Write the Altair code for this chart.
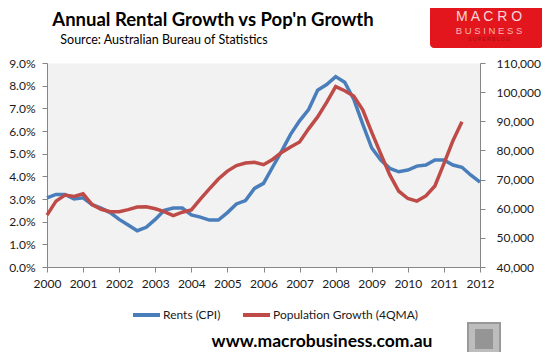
import altair as alt
import pandas as pd

# Quarterly time (decimal years)
quarters = [2000 + i * 0.25 for i in range(49)]

# Rents (CPI), annual % growth (left axis)
rents = [3.05, 3.2, 3.2, 3.0, 3.05, 2.75, 2.6, 2.4, 2.1, 1.85, 1.6, 1.75,
         2.1, 2.5, 2.6, 2.6, 2.3, 2.2, 2.07, 2.07, 2.4, 2.78, 2.93, 3.47,
         3.69, 4.4, 5.1, 5.85, 6.45, 6.95, 7.8, 8.05, 8.4, 8.15, 7.4, 6.3,
         5.25, 4.72, 4.35, 4.2, 4.28, 4.45, 4.5, 4.72, 4.72, 4.5, 4.4, 4.05, 3.74]

# Population growth, 4-quarter moving average (right axis)
pop = [57800, 62600, 64700, 64200, 65100, 61400, 59800, 59000, 59000, 59700,
       60600, 60700, 60000, 59000, 57600, 58800, 59600, 63300, 66800, 70200,
       72900, 74800, 75700, 75900, 75100, 76900, 79300, 81200, 82900, 87400,
       91500, 96500, 101900, 100500, 98700, 93900, 86200, 78800, 71600, 66000,
       63500, 62600, 64400, 67800, 75500, 83300, 89800]

year_ticks = list(range(2000, 2013))
pct_ticks = list(range(0, 10))
pop_ticks = list(range(40000, 110001, 10000))

title_text = "Annual Rental Growth vs Pop'n Growth"
subtitle_text = "Source:  Australian Bureau of Statistics"
legend_labels = ["Rents (CPI)", "Population Growth (4QMA)"]
footer_text = "www.macrobusiness.com.au"

BLUE = "#4A7EBB"
RED = "#BE4B48"
FONT = "Lato"
AXC = "#868686"
LBL = "#1a1a1a"

W, H = 433, 204

df_r = pd.DataFrame({"t": quarters, "v": rents})
df_p = pd.DataFrame({"t": quarters[:len(pop)], "v": pop})

xenc = alt.X("t:Q", scale=alt.Scale(domain=[2000, 2012], nice=False, zero=False),
             axis=alt.Axis(values=year_ticks, format="d", title=None, grid=False,
                           domainColor=AXC, tickColor=AXC, tickSize=5, labelPadding=6,
                           labelFont=FONT, labelFontSize=12, labelColor=LBL,
                           labelFlush=False))

rent_line = alt.Chart(df_r).mark_line(color=BLUE, strokeWidth=3.5).encode(
    x=xenc,
    y=alt.Y("v:Q", scale=alt.Scale(domain=[0, 9], nice=False),
            axis=alt.Axis(orient="left", values=pct_ticks, title=None, grid=False,
                          labelExpr="format(datum.value, '.1f') + '%'",
                          domainColor=AXC, tickColor=AXC, tickSize=5, labelPadding=7,
                          labelFont=FONT, labelFontSize=12, labelColor=LBL))
)

pop_line = alt.Chart(df_p).mark_line(color=RED, strokeWidth=3.5).encode(
    x=xenc,
    y=alt.Y("v:Q", scale=alt.Scale(domain=[40000, 110000], nice=False, zero=False),
            axis=alt.Axis(orient="right", values=pop_ticks, title=None, grid=False,
                          format=",d",
                          domainColor=AXC, tickColor=AXC, tickSize=5, labelPadding=11,
                          labelFont=FONT, labelFontSize=12, labelColor=LBL))
)

one = pd.DataFrame({"a": [0]})

def txt(s, x, y, size, bold=False, color="#000", align="center", font=FONT):
    return alt.Chart(one).mark_text(
        text=s, fontSize=size, fontWeight="bold" if bold else "normal",
        color=color, align=align, baseline="middle", font=font
    ).encode(x=alt.value(x), y=alt.value(y))

title = txt(title_text, 166, -43, 18.5, bold=True)
subtitle = txt(subtitle_text, 117, -23, 12.5)

logo_box = alt.Chart(one).mark_rect(color="#E3161E", cornerRadius=4).encode(
    x=alt.value(383), x2=alt.value(496), y=alt.value(-58), y2=alt.value(-15))
logo1 = txt("M A C R O", 442, -46, 14, color="#F6D6D6", font="Liberation Sans")
logo2 = txt("B U S I N E S S", 442, -32, 9.5, color="#F5B5B5", font="Liberation Sans")
logo3 = txt("S U P E R B L O G", 442, -24, 5, color="#A01010", font="Liberation Sans")

leg_b = alt.Chart(one).mark_rule(color=BLUE, strokeWidth=4).encode(
    x=alt.value(86), x2=alt.value(113), y=alt.value(252))
leg_r = alt.Chart(one).mark_rule(color=RED, strokeWidth=4).encode(
    x=alt.value(196), x2=alt.value(223), y=alt.value(252))
leg_bt = txt(legend_labels[0], 116, 252, 12, color=LBL, align="left")
leg_rt = txt(legend_labels[1], 226, 252, 12, color=LBL, align="left")

footer = txt(footer_text, 275, 279, 17.5, bold=True)

fox = alt.Chart(one).mark_rect(color="#BDBDBD", stroke="#999999", strokeWidth=2).encode(
    x=alt.value(421), x2=alt.value(453), y=alt.value(260), y2=alt.value(290))
fox_in = alt.Chart(one).mark_rect(color="#7A7A7A", opacity=0.6).encode(
    x=alt.value(428), x2=alt.value(446), y=alt.value(266), y2=alt.value(286))

lines = alt.layer(rent_line, pop_line).resolve_scale(y="independent")

chart = alt.layer(
    lines, title, subtitle, logo_box, logo1, logo2, logo3,
    leg_b, leg_r, leg_bt, leg_rt, footer, fox, fox_in
).properties(
    width=W, height=H,
    autosize=alt.AutoSizeParams(type="none"),
    padding={"left": 39, "top": 55, "right": 62, "bottom": 85},
    background="white",
).configure_view(fill="#F2F2F2", strokeOpacity=0)

chart.save("out.html", embed_options={"renderer": "svg", "actions": False})
